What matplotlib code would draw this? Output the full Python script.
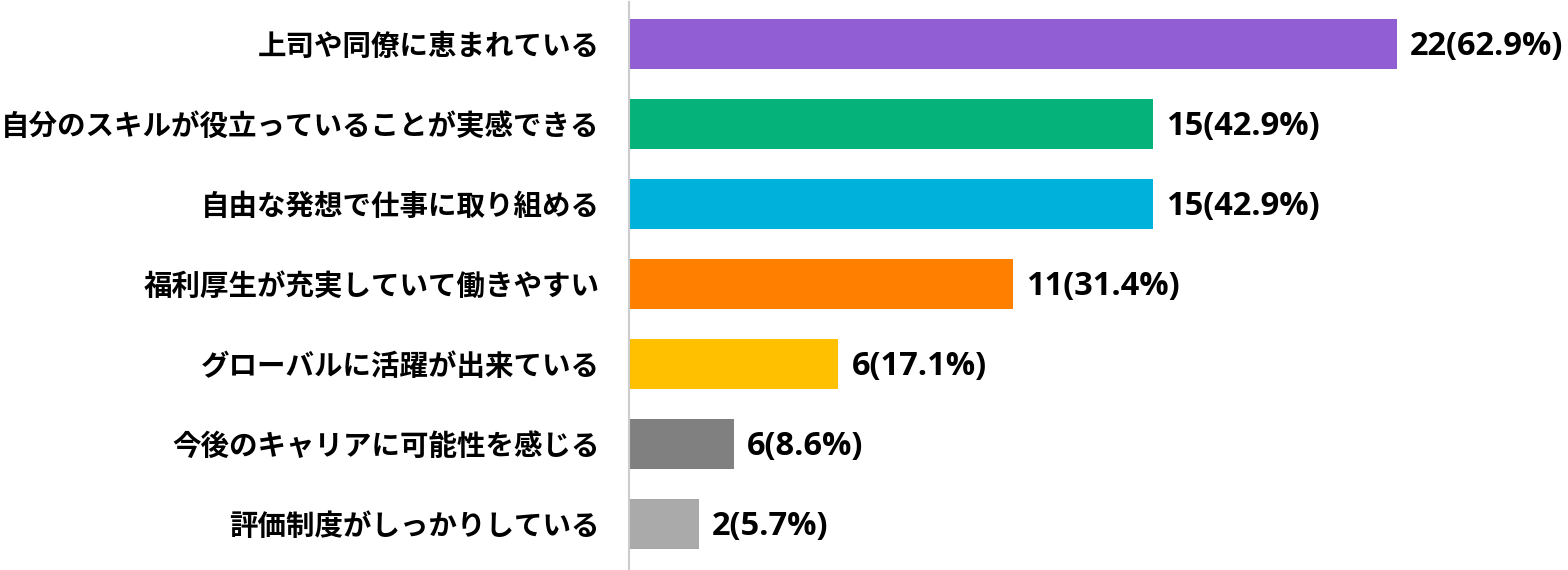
import matplotlib
matplotlib.use("Agg")
import matplotlib.pyplot as plt

plt.rcParams['font.family'] = ['Noto Sans CJK JP', 'DejaVu Sans']

categories = [
    "上司や同僚に恵まれている",
    "自分のスキルが役立っていることが実感できる",
    "自由な発想で仕事に取り組める",
    "福利厚生が充実していて働きやすい",
    "グローバルに活躍が出来ている",
    "今後のキャリアに可能性を感じる",
    "評価制度がしっかりしている",
]
counts = [22, 15, 15, 11, 6, 3, 2]
value_labels = ["22(62.9%)", "15(42.9%)", "15(42.9%)", "11(31.4%)",
                "6(17.1%)", "6(8.6%)", "2(5.7%)"]
colors = ["#915FD3", "#05B27A", "#00B1DC", "#FF7F00", "#FFC000", "#808080", "#AAAAAA"]

W, H = 1568, 570
fig = plt.figure(figsize=(W / 100, H / 100), dpi=100)
ax = fig.add_axes([629 / W, 6 / H, (W - 629) / W, 560 / H])

y = list(range(len(categories)))
ax.barh(y, counts, height=0.625, color=colors)
ax.set_ylim(len(categories) - 0.5, -0.5)
ax.set_xlim(0, (W - 629) / 34.9)

for yi, c, lab in zip(y, counts, value_labels):
    ax.annotate(lab, (c, yi), xytext=(9.5, -2), textcoords="offset points",
                va="center", ha="left", fontsize=23.5, fontweight="bold",
                family=["Open Sans", "DejaVu Sans"], color="#000000")

ax.set_yticks(y)
ax.set_yticklabels(categories, fontsize=20.5, fontweight="bold", color="#000000")
ax.tick_params(axis="y", length=0, pad=21)
ax.set_xticks([])
for s in ["top", "right", "bottom"]:
    ax.spines[s].set_visible(False)
ax.spines["left"].set_color("#CCCCCC")
ax.spines["left"].set_linewidth(1.5)
ax.spines["left"].set_bounds(-0.52, 6.62)
ax.spines["left"].set_clip_on(False)

fig.savefig("out.png", dpi=100)
